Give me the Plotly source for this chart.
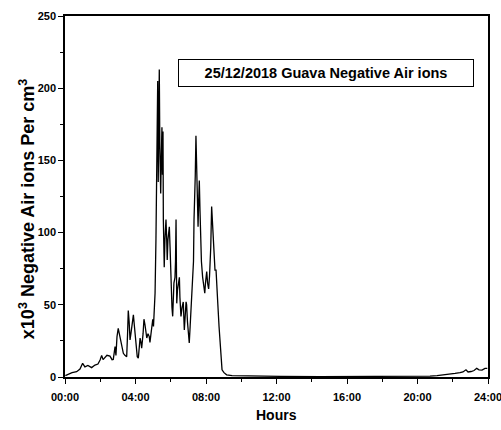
import plotly.graph_objects as go

# Negative air ion concentration (x10^3 per cm^3) over one day, hours since midnight
hours = [
    0.02, 0.17, 0.40, 0.66, 0.85, 1.00, 1.13, 1.30, 1.51, 1.70,
    1.87, 1.99, 2.08, 2.16, 2.27, 2.38, 2.55, 2.67, 2.74, 2.84,
    2.89, 2.95, 3.02, 3.09, 3.16, 3.23, 3.31, 3.40, 3.50, 3.55,
    3.59, 3.64, 3.69, 3.74, 3.80, 3.88, 3.94, 4.03, 4.10, 4.16,
    4.20, 4.26, 4.31, 4.35, 4.43, 4.48, 4.54, 4.64, 4.71, 4.78,
    4.82, 4.88, 4.98, 5.02, 5.05, 5.11, 5.16, 5.21, 5.24, 5.26,
    5.29, 5.32, 5.35, 5.38, 5.41, 5.43, 5.46, 5.50, 5.53, 5.56,
    5.58, 5.62, 5.63, 5.67, 5.73, 5.77, 5.80, 5.84, 5.92, 5.96,
    6.00, 6.04, 6.07, 6.11, 6.16, 6.18, 6.24, 6.27, 6.30, 6.33,
    6.34, 6.38, 6.43, 6.49, 6.52, 6.58, 6.64, 6.71, 6.77, 6.81,
    6.87, 6.90, 6.95, 7.00, 7.05, 7.10, 7.19, 7.25, 7.29, 7.32,
    7.35, 7.39, 7.43, 7.47, 7.51, 7.55, 7.58, 7.62, 7.66, 7.70,
    7.74, 7.81, 7.86, 7.93, 7.97, 8.04, 8.09, 8.15, 8.20, 8.23,
    8.27, 8.32, 8.37, 8.41, 8.47, 8.51, 8.57, 8.61, 8.66, 8.74,
    8.79, 8.85, 8.91, 9.02, 9.17, 9.48, 10.50, 12.20, 14.47, 16.74,
    19.01, 20.14, 20.71, 21.11, 21.56, 21.84, 22.13, 22.41, 22.58, 22.75,
    22.87, 23.04, 23.21, 23.36, 23.49, 23.66, 23.83, 23.96,
]
ions = [
    1.0, 2.0, 3.0, 3.7, 5.5, 9.5, 7.0, 8.0, 6.5, 8.3,
    9.0, 11.8, 15.0, 12.0, 13.6, 15.0, 14.5, 12.0, 12.2, 21.0,
    15.0, 28.0, 33.7, 29.0, 25.6, 20.0, 16.4, 15.0, 14.0, 30.0,
    46.0, 38.0, 25.6, 30.0, 35.0, 43.0, 35.0, 22.0, 14.0, 13.0,
    18.0, 27.0, 24.0, 20.0, 30.0, 40.0, 36.0, 27.0, 30.0, 28.0,
    24.0, 30.0, 40.0, 35.0, 44.0, 58.0, 95.0, 150.0, 205.0, 205.0,
    135.0, 190.0, 213.0, 160.0, 140.0, 127.0, 150.0, 173.0, 140.0, 170.0,
    109.0, 90.0, 76.0, 95.0, 109.0, 95.0, 81.0, 95.0, 104.0, 90.0,
    72.0, 60.0, 48.0, 42.0, 55.0, 65.0, 69.0, 80.0, 109.0, 70.0,
    51.0, 60.0, 66.0, 69.0, 55.0, 42.0, 48.0, 52.0, 32.5, 40.0,
    52.0, 50.0, 38.0, 30.0, 23.5, 35.0, 55.0, 67.0, 80.0, 109.0,
    120.0, 139.0, 167.0, 140.0, 115.0, 104.0, 120.0, 136.0, 115.0, 97.0,
    80.0, 69.0, 62.0, 58.0, 65.0, 73.0, 65.0, 61.0, 70.0, 77.0,
    90.0, 118.0, 104.0, 104.0, 76.0, 74.0, 74.0, 60.0, 53.0, 35.0,
    23.5, 12.0, 5.0, 3.0, 1.5, 1.0, 0.7, 0.5, 0.3, 0.3,
    0.3, 0.4, 0.6, 1.0, 1.5, 2.0, 2.5, 3.0, 3.5, 5.0,
    3.5, 3.8, 4.5, 6.0, 5.0, 4.8, 6.0, 6.0,
]

x_tick_vals = [0, 4, 8, 12, 16, 20, 24]
x_tick_text = ["00:00", "04:00", "08:00", "12:00", "16:00", "20:00", "24:00"]
y_tick_vals = [0, 50, 100, 150, 200, 250]

sans = "Liberation Sans, Arial, sans-serif"

fig = go.Figure()
fig.add_trace(go.Scatter(
    x=hours, y=ions, mode="lines",
    line=dict(color="black", width=1.3),
    showlegend=False, hoverinfo="skip",
))

fig.update_layout(
    width=501, height=430,
    margin=dict(l=65, r=13, t=16, b=53),
    paper_bgcolor="white", plot_bgcolor="white",
    font=dict(family=sans, color="black"),
)

fig.update_xaxes(
    range=[-0.0001, 24.0001], tickvals=x_tick_vals, ticktext=x_tick_text,
    automargin=False, ticklabeloverflow="allow",
    ticks="outside", ticklen=5, tickwidth=1.2, tickcolor="black",
    minor=dict(tickvals=[2, 6, 10, 14, 18, 22], ticks="outside", ticklen=3,
               tickcolor="black", tickwidth=1),
    showline=True, linecolor="black", linewidth=1.5, mirror=True,
    showgrid=False, zeroline=False, ticklabelstandoff=4,
    tickfont=dict(family=sans, size=11, color="black", weight="bold"),
)
fig.update_yaxes(
    range=[0, 250], tickvals=y_tick_vals, automargin=False,
    ticks="outside", ticklen=5, tickwidth=1.2, tickcolor="black",
    minor=dict(tickvals=[25, 75, 125, 175, 225], ticks="outside", ticklen=3,
               tickcolor="black", tickwidth=1),
    showline=True, linecolor="black", linewidth=1.5, mirror=True,
    showgrid=False, zeroline=False,
    tickfont=dict(family=sans, size=11, color="black", weight="bold"),
)

# Boxed caption inside the plot area
fig.add_annotation(
    text="<b>25/12/2018 Guava Negative Air ions</b>",
    xref="paper", yref="paper", x=0.616, y=0.842,
    xanchor="center", yanchor="middle",
    showarrow=False, width=290, height=22,
    bordercolor="black", borderwidth=1, borderpad=2, bgcolor="white",
    font=dict(family=sans, size=14.5, color="black"),
)

# Axis titles
fig.add_annotation(
    text="<b>Hours</b>", xref="paper", yref="paper", x=0.501, y=-0.105,
    xanchor="center", yanchor="middle",
    showarrow=False, font=dict(family=sans, size=14, color="black"),
)
fig.add_annotation(
    text="<b>x10<sup>3</sup> Negative Air ions Per cm<sup>3</sup></b>",
    xref="paper", yref="paper", x=-0.0898, y=0.465, textangle=-90,
    xanchor="center", yanchor="middle",
    showarrow=False, font=dict(family=sans, size=18, color="black"),
)

fig.write_html("out.html")
